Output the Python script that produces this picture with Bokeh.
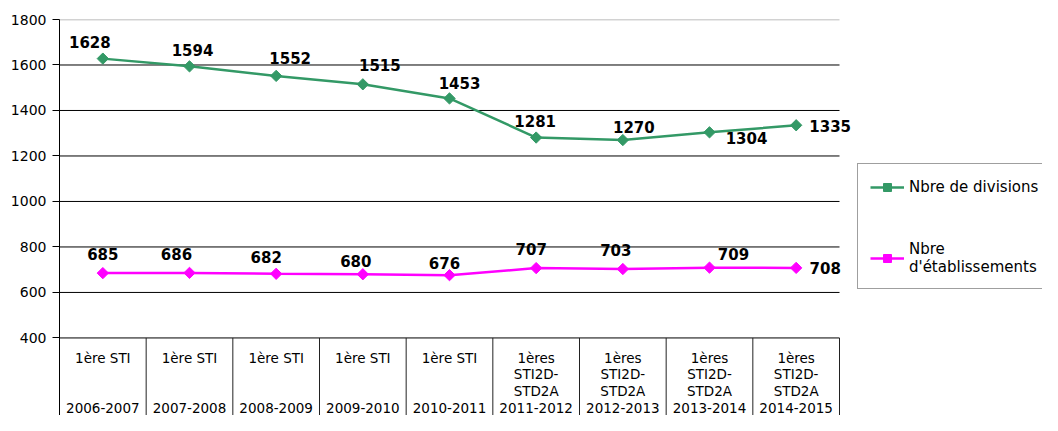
import math
from bokeh.plotting import figure
from bokeh.models import (ColumnDataSource, Range1d, FixedTicker,
                          Legend, LegendItem)
from bokeh.core.properties import value
from bokeh.embed import file_html
from bokeh.resources import INLINE

# ---------------- data ----------------
years = ["2006-2007", "2007-2008", "2008-2009", "2009-2010", "2010-2011",
         "2011-2012", "2012-2013", "2013-2014", "2014-2015"]
levels = ["1ère STI", "1ère STI", "1ère STI", "1ère STI", "1ère STI",
          "1ères\nSTI2D-\nSTD2A", "1ères\nSTI2D-\nSTD2A",
          "1ères\nSTI2D-\nSTD2A", "1ères\nSTI2D-\nSTD2A"]
divisions = [1628, 1594, 1552, 1515, 1453, 1281, 1270, 1304, 1335]
etablissements = [685, 686, 682, 680, 676, 707, 703, 709, 708]
y_ticks = [400, 600, 800, 1000, 1200, 1400, 1600, 1800]
series_names = ["Nbre de divisions", "Nbre\nd'établissements"]

# ---------------- label placement (screen pixels, y down) ----------------
div_dx = [-13, 3, 14, 17, 10, -1, 11, 37, 34]
div_dy = [-17, -16, -18, -19, -15, -17, -13, 6, 1]
eta_dx = [0, -13, -10, -7, -5, -5, -7, 24, 29]
eta_dy = [-19, -19, -17, -13, -12, -19, -19, -14, 0]

# ---------------- layout constants ----------------
W, H = 1042, 415
LEFT, TOP = 59, 19
CAT_AREA_PX = 780          # width of the category table in pixels
GREEN = "#339966"
MAGENTA = "#FF00FF"
Y_BOTTOM = 59
Y_TOP = 1800

n = len(years)
x_center = [i + 0.5 for i in range(n)]
x_sep = [i + 1 for i in range(n)]
X_END = n * (W - LEFT) / CAT_AREA_PX

src = ColumnDataSource(dict(
    x=x_center, xs=x_sep, year=years, level=levels,
    div=divisions, eta=etablissements,
    div_txt=[str(v) for v in divisions], eta_txt=[str(v) for v in etablissements],
    div_dx=div_dx, div_dy=div_dy, eta_dx=eta_dx, eta_dy=eta_dy,
))

p = figure(width=W, height=H,
           x_range=Range1d(0, X_END), y_range=Range1d(Y_BOTTOM, Y_TOP),
           output_backend="svg", toolbar_location=None, title=None,
           x_axis_location=None,
           min_border_left=LEFT, min_border_right=0,
           min_border_top=TOP, min_border_bottom=0)
p.outline_line_color = None
p.background_fill_color = "white"
p.xgrid.visible = False
p.ygrid.visible = False

# y axis
ax = p.yaxis[0]
ax.ticker = FixedTicker(ticks=y_ticks)
ax.major_label_text_font = "DejaVu Sans"
ax.major_label_text_font_size = "14px"
ax.major_label_text_color = "black"
ax.axis_line_color = "black"
ax.axis_line_width = 1
ax.major_tick_line_color = "black"
ax.major_tick_in = 0
ax.major_tick_out = 7
ax.minor_tick_line_color = None
ax.major_label_standoff = 6

# horizontal grid lines limited to the category area
grid_src = ColumnDataSource(dict(y=y_ticks[:-1]))
p.segment(x0=0, y0="y", x1=n, y1="y", source=grid_src,
          line_color="#000000", line_width=1)
p.segment(x0=0, y0=Y_TOP, x1=n, y1=Y_TOP, line_color="#A6A6A6", line_width=1.5)

# category table separators
p.segment(x0="xs", y0=y_ticks[0], x1="xs", y1=Y_BOTTOM, source=src,
          line_color="#222222", line_width=1)

# category labels
p.text(x="x", y=y_ticks[0], text="level", source=src,
       y_offset=12, text_align="center", text_baseline="top",
       text_font=value("DejaVu Sans"), text_font_size="13.5px",
       text_line_height=1.02, text_color="black")
p.text(x="x", y=y_ticks[0], text="year", source=src,
       y_offset=70, text_align="center", text_baseline="middle",
       text_font=value("DejaVu Sans"), text_font_size="13.5px",
       text_color="black")

# series
l1 = p.line(x="x", y="div", source=src, line_color=GREEN, line_width=2.5)
s1 = p.scatter(x="x", y="div", source=src, marker="square", angle=math.pi / 4,
               size=8, fill_color=GREEN, line_color=GREEN)
l2 = p.line(x="x", y="eta", source=src, line_color=MAGENTA, line_width=2.5)
s2 = p.scatter(x="x", y="eta", source=src, marker="square", angle=math.pi / 4,
               size=8, fill_color=MAGENTA, line_color=MAGENTA)

# data labels
for col in ("div", "eta"):
    p.text(x="x", y=col, text=col + "_txt", source=src,
           x_offset=col + "_dx", y_offset=col + "_dy",
           text_align="center", text_baseline="middle",
           text_font=value("DejaVu Sans"), text_font_style="bold",
           text_font_size="15px", text_color="black")

legend = Legend(items=[LegendItem(label=series_names[0], renderers=[l1, s1]),
                       LegendItem(label=series_names[1], renderers=[l2, s2])],
                location=(798, 126), margin=0, padding=12, spacing=42,
                glyph_width=34, glyph_height=20, label_height=22,
                label_standoff=5,
                label_text_font="DejaVu Sans", label_text_font_size="15px",
                label_text_line_height=1.2, label_text_color="black",
                border_line_color="#404040", border_line_width=1,
                background_fill_color="white", background_fill_alpha=1)
p.add_layout(legend)

open("out.html", "w").write(file_html(p, INLINE))
